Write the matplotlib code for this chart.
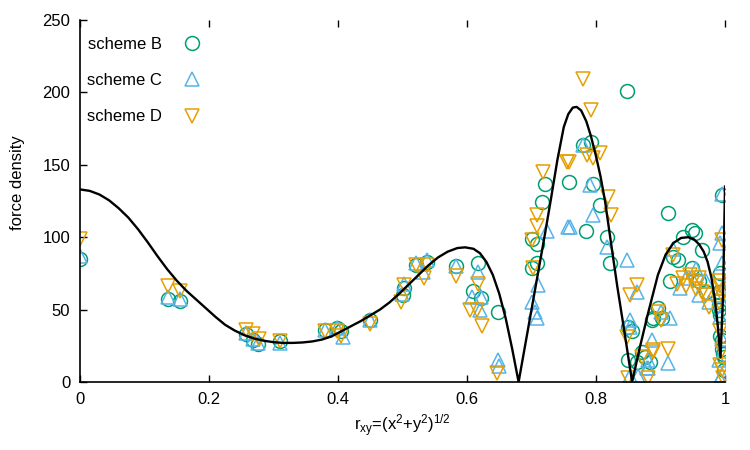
import matplotlib
matplotlib.use('Agg')
import matplotlib.pyplot as plt

plt.rcParams['font.family'] = ['Liberation Sans', 'DejaVu Sans']
plt.rcParams['mathtext.fontset'] = 'custom'
plt.rcParams['mathtext.rm'] = 'Liberation Sans'
plt.rcParams['mathtext.it'] = 'Liberation Sans'

# curve
curve_x = [0, 0.015, 0.03, 0.045, 0.06, 0.075, 0.09, 0.105, 0.12, 0.135, 0.15, 0.165, 0.18,
           0.195, 0.21, 0.225, 0.24, 0.255, 0.27, 0.285, 0.3, 0.315, 0.33, 0.345, 0.36,
           0.375, 0.39, 0.405, 0.42, 0.435, 0.45, 0.465, 0.48, 0.495, 0.51, 0.525, 0.54,
           0.555, 0.57, 0.585, 0.597, 0.61, 0.62, 0.63, 0.64, 0.65, 0.66, 0.67, 0.68,
           0.69, 0.70, 0.71, 0.72, 0.73, 0.74, 0.75, 0.757, 0.764, 0.77, 0.777, 0.785,
           0.792, 0.80, 0.807, 0.814, 0.822, 0.833, 0.845, 0.856, 0.868, 0.881, 0.896,
           0.908, 0.92, 0.932, 0.943, 0.952, 0.96, 0.967, 0.973, 0.979, 0.984, 0.989,
           0.993, 0.997, 1.0]
curve_y = [133, 132, 129.5, 125.5, 120, 113.5, 105.5, 96.5, 87, 78, 70, 63, 57,
           51, 45, 39.5, 35.5, 32.3, 30, 28.5, 27.5, 27, 27, 27.3, 28,
           29.3, 31.5, 35, 38.5, 42, 46, 50, 55, 61, 67.5, 74, 80.5,
           86, 90, 92.5, 93, 92, 89, 83, 74, 61, 44, 23, 0,
           25, 50, 75, 100, 126, 153, 176, 185, 189.5, 190, 187.5, 180,
           170, 156, 142, 125, 100, 66, 32, 0, 24, 48, 74,
           88, 96, 99.5, 100, 98.5, 95, 90, 83, 72, 58, 38,
           17, 60, 135]

# scheme B (circles)
b_x = [0, 0.137, 0.155, 0.258, 0.268, 0.276, 0.31, 0.38, 0.398, 0.405, 0.45, 0.50, 0.503,
       0.521, 0.538, 0.583, 0.61, 0.617, 0.622, 0.648, 0.70, 0.70, 0.708, 0.708, 0.716, 0.721,
       0.758, 0.78, 0.785, 0.792, 0.795, 0.806, 0.817, 0.822, 0.848, 0.85, 0.85, 0.856,
       0.864, 0.871, 0.876, 0.884, 0.887, 0.889, 0.896, 0.902, 0.912, 0.915, 0.919, 0.927,
       0.935, 0.949, 0.953, 0.949, 0.964, 0.96, 0.97, 0.99, 0.99, 0.992, 0.993, 0.995, 0.995,
       0.997, 0.998, 0.995, 0.998, 0.99, 0.993]
b_y = [85, 57, 56, 33, 29, 26, 28, 36, 37, 35, 43, 60, 65,
       81, 83, 80, 63, 82, 58, 48, 99, 79, 95, 82, 124, 137,
       138, 164, 104, 166, 137, 122, 100, 82, 201, 38, 15, 35,
       14, 21, 17, 14, 43, 44, 51, 44, 117, 70, 86, 84,
       100, 105, 103, 79, 91, 70, 62, 53, 50, 46, 32, 29, 23,
       19, 17, 129, 8, 62, 75]

# scheme C (triangles up)
c_x = [0, 0.137, 0.155, 0.258, 0.268, 0.276, 0.31, 0.38, 0.398, 0.408, 0.45, 0.499, 0.502,
       0.521, 0.532, 0.538, 0.583, 0.608, 0.617, 0.62, 0.622, 0.648, 0.65, 0.70, 0.705,
       0.708, 0.71, 0.724, 0.757, 0.76, 0.78, 0.791, 0.795, 0.817, 0.848, 0.853, 0.853,
       0.853, 0.864, 0.865, 0.879, 0.881, 0.881, 0.887, 0.9, 0.912, 0.915, 0.92, 0.93,
       0.94, 0.955, 0.96, 0.97, 0.975, 0.995, 0.995, 0.993, 0.995, 0.99, 0.992, 0.995,
       0.99, 0.995, 0.993, 0.997]
c_y = [87, 59, 57, 34, 30, 27, 27, 36, 37, 31, 43, 61, 68,
       82, 76, 84, 80, 59, 76, 50, 59, 15, 11, 55, 48,
       44, 67, 104, 107, 107, 164, 136, 115, 93, 84, 43, 38,
       4, 62, 4, 10, 15, 10, 29, 48, 13, 44, 92, 65,
       72, 78, 60, 70, 55, 130, 103, 96, 82, 60, 45, 30,
       15, 5, 2, 65]

# scheme D (triangles down)
d_x = [0, 0.137, 0.155, 0.258, 0.268, 0.278, 0.31, 0.38, 0.398, 0.405, 0.45, 0.498, 0.502,
       0.521, 0.533, 0.538, 0.583, 0.605, 0.615, 0.617, 0.623, 0.647, 0.70, 0.703, 0.708,
       0.708, 0.718, 0.755, 0.758, 0.78, 0.786, 0.792, 0.795, 0.806, 0.819, 0.823, 0.848,
       0.85, 0.853, 0.864, 0.871, 0.881, 0.888, 0.889, 0.896, 0.9, 0.912, 0.92, 0.925,
       0.935, 0.94, 0.945, 0.95, 0.955, 0.96, 0.965, 0.97, 0.975, 0.995, 0.99, 0.993,
       0.995, 0.99, 0.992, 0.995, 0.993, 0.995, 0.997]
d_y = [99, 66, 63, 36, 33, 30, 28, 35, 35, 32, 40, 55, 67,
       81, 72, 81, 73, 50, 50, 68, 39, 6, 98, 79, 115,
       108, 145, 152, 152, 209, 157, 188, 155, 158, 128, 115, 31,
       3, 60, 67, 17, 3, 21, 22, 48, 43, 23, 88, 68,
       72, 66, 74, 70, 64, 72, 62, 60, 52, 98, 70, 66,
       60, 55, 35, 22, 12, 8, 3]

fig = plt.figure(figsize=(7.5, 4.5), dpi=100)
ax = fig.add_axes([80/750, 1 - 382/450, 645/750, 362/450])

ax.plot(curve_x, curve_y, color='black', lw=1.7, zorder=3)

ms = 10
ax.plot(b_x, b_y, 'o', ms=ms, mfc='none', mec='#009e73', mew=1.1, label='scheme B', zorder=2)
ax.plot(c_x, c_y, '^', ms=ms, mfc='none', mec='#56b4e9', mew=1.1, label='scheme C', zorder=2)
ax.plot(d_x, d_y, 'v', ms=ms, mfc='none', mec='#e69f00', mew=1.1, label='scheme D', zorder=2)

ax.set_xlim(0, 1)
ax.set_ylim(0, 250)
ax.set_xticks([0, 0.2, 0.4, 0.6, 0.8, 1])
ax.set_xticklabels(['0', '0.2', '0.4', '0.6', '0.8', '1'])
ax.set_yticks([0, 50, 100, 150, 200, 250])

ax.spines['top'].set_visible(False)
ax.spines['right'].set_visible(False)
ax.spines['left'].set_linewidth(1.2)
ax.spines['bottom'].set_linewidth(1.2)
ax.tick_params(direction='in', length=5, width=1, labelsize=12, pad=7, top=True)

ax.set_ylabel('force density', fontsize=12)
ax.yaxis.set_label_coords(-0.085, 0.55)
ax.set_xlabel(r'r$_{xy}$=(x$^2$+y$^2$)$^{1/2}$', fontsize=12, labelpad=4)

ax.legend(loc='upper left', bbox_to_anchor=(0.0, 0.972), markerfirst=False, frameon=False,
          fontsize=12, labelspacing=1.28, handletextpad=0.85, borderaxespad=0.0, borderpad=0.4)

fig.savefig('out.png', dpi=100)
